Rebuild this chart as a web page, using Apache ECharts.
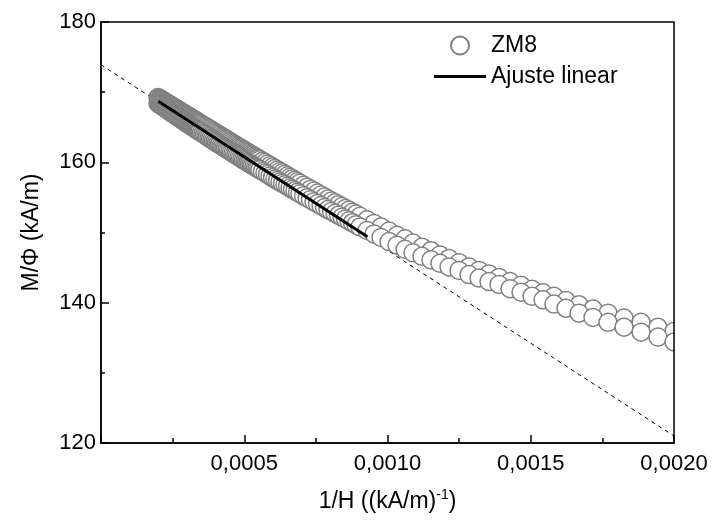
<!DOCTYPE html>
<html><head><meta charset="utf-8">
<script src="https://cdn.jsdelivr.net/npm/echarts@6/dist/echarts.min.js"></script>
<style>html,body{margin:0;padding:0;background:#fff}#c{width:713px;height:523px}</style>
</head><body><div id="c"></div>
<script>
// 1/H values ((kA/m)^-1), shared by both sweep branches
const xValues = [
0.00019895,0.00020244,0.00020593,0.00020942,0.00021291,0.00021640,0.00021990,0.00022339,0.00022688,0.00023037,
0.00023386,0.00023735,0.00024084,0.00024433,0.00024782,0.00025131,0.00025480,0.00025829,0.00026178,0.00026527,
0.00026876,0.00027225,0.00027574,0.00027923,0.00028272,0.00028621,0.00028970,0.00029319,0.00029668,0.00030017,
0.00030366,0.00030716,0.00031065,0.00031414,0.00031763,0.00032112,0.00032461,0.00032810,0.00033159,0.00033508,
0.00033857,0.00034206,0.00034555,
0.00035078,0.00035602,0.00036126,0.00036649,0.00037173,0.00037696,0.00038220,0.00038743,0.00039267,0.00039791,
0.00040314,0.00040838,0.00041361,0.00041885,0.00042409,0.00042932,0.00043456,0.00043979,0.00044503,0.00045026,
0.00045550,0.00046073,0.00046597,0.00047120,0.00047644,0.00048168,0.00048691,0.00049215,0.00049738,0.00050262,
0.00050785,0.00051309,0.00051833,0.00052356,0.00052880,0.00053403,0.00053927,0.00054450,0.00054974,0.00055497,
0.00056370,0.00057243,0.00058115,0.00058988,0.00059860,0.00060733,0.00061605,0.00062478,0.00063351,0.00064223,
0.00065096,0.00065968,0.00066841,0.00067714,0.00068586,0.00069459,
0.00070681,0.00071902,0.00073124,0.00074346,0.00075567,0.00076789,0.00078010,0.00079232,0.00080454,0.00081675,
0.00082897,0.00084119,0.00085340,0.00086562,0.00087784,0.00089005,
0.0009040,0.0009284,0.0009529,0.0009773,0.0010052,0.0010332,0.0010611,0.0010890,0.0011204,0.0011518,
0.0011832,0.0012147,0.0012496,0.0012845,0.0013194,0.0013543,0.0013892,0.0014276,0.0014660,0.0015044,
0.0015428,0.0015810,0.0016230,0.0016684,0.0017173,0.0017696,0.0018255,0.0018850,0.0019440,0.0020000
];
// M/Phi (kA/m), upper branch
const upperBranch = [
169.23,169.14,169.05,168.96,168.88,168.79,168.70,168.62,168.53,168.44,
168.35,168.27,168.18,168.09,168.00,167.92,167.83,167.74,167.66,167.57,
167.48,167.39,167.31,167.22,167.13,167.04,166.96,166.87,166.78,166.70,
166.61,166.52,166.43,166.35,166.26,166.17,166.08,166.00,165.91,165.82,
165.74,165.65,165.56,
165.43,165.30,165.17,165.04,164.91,164.78,164.65,164.51,164.38,164.25,
164.12,163.99,163.86,163.73,163.60,163.47,163.34,163.21,163.07,162.94,
162.81,162.68,162.55,162.42,162.29,162.16,162.03,161.90,161.77,161.64,
161.51,161.39,161.26,161.13,161.01,160.88,160.76,160.63,160.51,160.38,
160.17,159.96,159.75,159.54,159.33,159.12,158.91,158.71,158.50,158.29,
158.08,157.87,157.66,157.45,157.24,157.03,
156.74,156.46,156.18,155.90,155.62,155.34,155.06,154.78,154.50,154.23,
153.96,153.69,153.43,153.16,152.89,152.62,
152.3,151.8,151.3,150.8,150.2,149.6,149.1,148.5,147.9,147.4,
146.8,146.3,145.7,145.1,144.6,144.1,143.6,143.0,142.5,141.9,
141.4,140.9,140.3,139.7,139.1,138.5,137.8,137.2,136.5,135.9
];
// M/Phi (kA/m), lower branch
const lowerBranch = [
168.43,168.33,168.23,168.14,168.04,167.94,167.84,167.75,167.65,167.55,
167.45,167.35,167.26,167.16,167.06,166.96,166.87,166.77,166.67,166.57,
166.47,166.38,166.28,166.18,166.08,165.99,165.89,165.79,165.69,165.60,
165.50,165.41,165.31,165.22,165.12,165.03,164.94,164.84,164.75,164.65,
164.56,164.46,164.37,
164.23,164.09,163.95,163.80,163.66,163.52,163.38,163.24,163.10,162.96,
162.82,162.68,162.55,162.41,162.27,162.14,162.00,161.87,161.73,161.59,
161.46,161.32,161.18,161.05,160.91,160.78,160.64,160.50,160.37,160.23,
160.10,159.97,159.84,159.71,159.58,159.45,159.32,159.19,159.06,158.93,
158.71,158.49,158.27,158.05,157.84,157.62,157.41,157.21,157.00,156.79,
156.58,156.37,156.16,155.95,155.74,155.53,
155.24,154.96,154.68,154.40,154.12,153.84,153.56,153.28,153.00,152.73,
152.46,152.19,151.93,151.66,151.39,151.12,
150.8,150.3,149.8,149.3,148.7,148.2,147.6,147.1,146.6,146.1,
145.6,145.1,144.6,144.0,143.5,143.0,142.6,142.0,141.5,140.9,
140.4,139.8,139.2,138.5,137.9,137.2,136.5,135.8,135.1,134.4
];
// linear fit segment and its dashed extrapolation
const fitX = [0.0002, 0.00093];
const fitY = [168.7, 149.4];
const extX = [0, 0.002];
const extY = [173.9, 121.0];

const FONT = '"Liberation Sans", Arial, sans-serif';
const W = 713, H = 523;
const GRID = { left: 101, right: 39, top: 22, bottom: 80 };
const zip = (a, b) => a.map((v, i) => [v, b[i]]);
const scatterStyle = { color: '#ffffff', borderColor: '#808080', borderWidth: 1.5, opacity: 1 };

const chart = echarts.init(document.getElementById('c'), null, { renderer: 'canvas' });
chart.setOption({
  animation: false,
  backgroundColor: '#ffffff',
  textStyle: { fontFamily: FONT, color: '#000' },
  grid: { left: GRID.left, right: GRID.right, top: GRID.top, bottom: GRID.bottom, show: true,
          borderColor: '#000', borderWidth: 1.5, backgroundColor: 'transparent', z: 20 },
  // mask so that symbols at the right edge are cut by the frame, as in the original plot
  graphic: [{ type: 'rect', z: 15, silent: true,
    shape: { x: W - GRID.right + 1, y: 0, width: GRID.right, height: H },
    style: { fill: '#ffffff' } }],
  legend: {
    orient: 'vertical', left: 434, top: 34, padding: 0, itemGap: 8,
    itemWidth: 52, itemHeight: 18, z: 30,
    textStyle: { fontFamily: FONT, fontSize: 23, color: '#000' },
    data: [{ name: 'ZM8', icon: 'circle' },
           { name: 'Ajuste linear', icon: 'path://M0,0H52V3H0Z', itemStyle: { color: '#000', borderWidth: 0 } }]
  },
  xAxis: {
    type: 'value', min: 0, max: 0.002, interval: 0.0005, z: 25,
    axisLine: { show: true, lineStyle: { color: '#000', width: 1.5 } },
    axisTick: { show: true, inside: true, length: 8, lineStyle: { color: '#000', width: 1.5 } },
    minorTick: { show: true, splitNumber: 2, length: 5, lineStyle: { color: '#000', width: 1.5 } },
    splitLine: { show: false },
    axisLabel: { fontFamily: FONT, fontSize: 22, color: '#000', margin: 10,
      formatter: v => v === 0 ? '' : v.toFixed(4).replace('.', ',') },
    name: '{a|1/H ((kA/m)}{s|-1}{a|)}', nameLocation: 'middle', nameGap: 45,
    nameTextStyle: { fontFamily: FONT, fontSize: 23, color: '#000',
      rich: { a: { fontFamily: FONT, fontSize: 23, color: '#000', lineHeight: 28 },
              s: { fontFamily: FONT, fontSize: 14, color: '#000', lineHeight: 14, verticalAlign: 'top' } } }
  },
  yAxis: {
    type: 'value', min: 120, max: 180, interval: 20, z: 25,
    axisLine: { show: true, lineStyle: { color: '#000', width: 1.5 } },
    axisTick: { show: true, inside: true, length: 8, lineStyle: { color: '#000', width: 1.5 } },
    minorTick: { show: true, splitNumber: 2, length: 4, lineStyle: { color: '#000', width: 1.5 } },
    splitLine: { show: false },
    axisLabel: { fontFamily: FONT, fontSize: 22, color: '#000', margin: 5 },
    name: 'M/Φ (kA/m)', nameLocation: 'middle', nameGap: 58,
    nameTextStyle: { fontFamily: FONT, fontSize: 23, color: '#000' }
  },
  series: [
    { name: 'extrapolation', type: 'line', data: zip(extX, extY), symbol: 'none', silent: true,
      lineStyle: { color: '#000', width: 1, type: [4, 4] }, z: 1 },
    { name: 'ZM8', type: 'scatter', data: zip(xValues, upperBranch), symbol: 'circle', symbolSize: 18,
      itemStyle: scatterStyle, z: 2 },
    { name: 'ZM8', type: 'scatter', data: zip(xValues, lowerBranch), symbol: 'circle', symbolSize: 18,
      itemStyle: scatterStyle, z: 2 },
    { name: 'Ajuste linear', type: 'line', data: zip(fitX, fitY), symbol: 'none',
      lineStyle: { color: '#000', width: 3 }, itemStyle: { color: '#000' }, z: 3 }
  ]
});
</script></body></html>
